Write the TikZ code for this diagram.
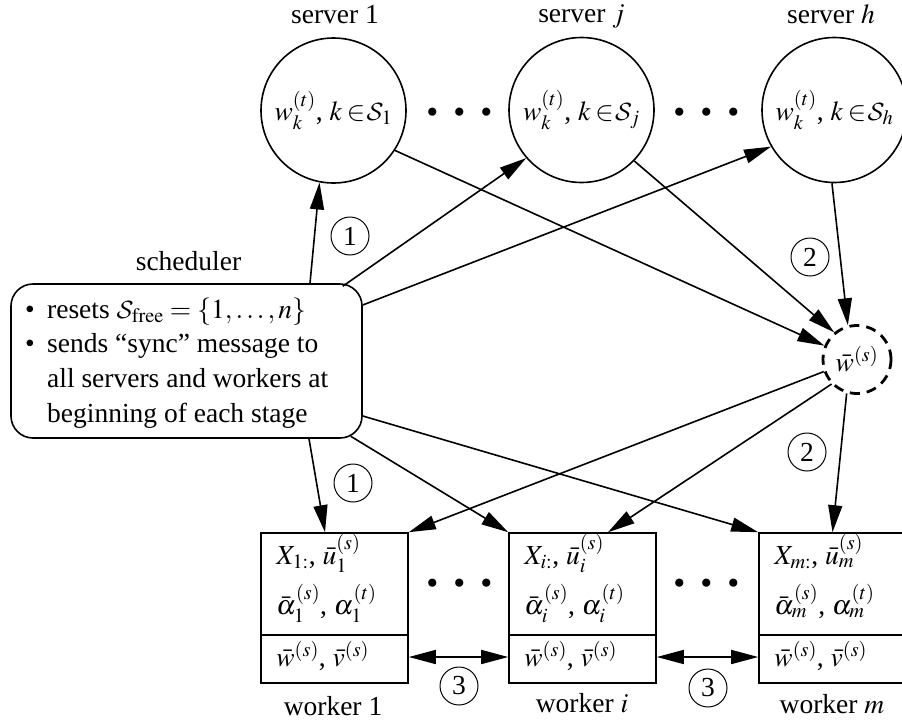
\documentclass[tikz,border=0pt]{standalone}
\usepackage{mathptmx}
\usepackage{fontspec}
\setmainfont{Liberation Serif}
\DeclareMathAlphabet{\mathcal}{OMS}{lmsy}{m}{n}
\usetikzlibrary{arrows.meta,calc}
\newcommand{\inS}{\mskip3mu{\in}\mskip1mu}
\begin{document}
\begin{tikzpicture}[x=1pt,y=-1pt,
  every node/.style={font=\fontsize{27.5}{34.7}\selectfont},
  server/.style={circle,draw,line width=1.6pt,minimum size=145pt,inner sep=0pt},
  wbox/.style={rectangle,draw,line width=1.6pt,minimum width=147pt,minimum height=150pt,inner sep=0pt},
  lbl/.style={anchor=base,inner sep=0pt},
  wt/.style={anchor=base west,inner sep=0pt},
  num/.style={circle,draw,line width=1pt,minimum size=38pt,inner sep=0pt},
  dots/.style={inner sep=0pt,font=\fontsize{50}{50}\selectfont\bfseries},
  arr/.style={line width=1.6pt,-{Triangle[length=27pt,width=14pt]}},
  darr/.style={line width=1.6pt,{Triangle[length=27pt,width=14pt]}-{Triangle[length=27pt,width=14pt]}}]
\useasboundingbox (0,0) rectangle (902,723);

% servers
\node[server] (s1) at (333.5,110.5) {$w_k^{(t)}$, $k\inS\mathcal{S}_1$};
\node[server] (sj) at (581.5,110) {$w_k^{(t)}$, $k\inS\mathcal{S}_j$};
\node[server] (sh) at (834.5,110) {$w_k^{(t)}$, $k\inS\mathcal{S}_h$};
\node[lbl] (l1) at (335,23) {server 1};
\node[lbl] (lj) at (581.5,22) {server $j$};
\node[lbl] (lh) at (831,23) {server $h$};
\node[dots] (d1) at (459.5,112) {.\hspace{14.5pt}.\hspace{14.5pt}.};
\node[dots] (d2) at (706.5,112) {.\hspace{14.5pt}.\hspace{14.5pt}.};

% aggregated
\node[circle,draw,dashed,dash pattern=on 10pt off 7pt,line width=2.8pt,minimum size=68pt,inner sep=0pt] (wb) at (857,359.5) {$\bar w^{(s)}$};

% scheduler
\node[lbl] (ls) at (188.5,270) {scheduler};
\node[draw,rounded corners=22pt,line width=1.6pt,minimum width=351pt,minimum height=154pt,inner sep=0pt] (sched) at (186.5,361) {};
\node[anchor=base west,inner sep=0pt] (schedtxt) at (25,318) {\begin{tabular}[t]{@{}p{22pt}@{}l@{}}
\textbullet & resets $\mathcal{S}_{\mathrm{free}}=\{1,\ldots,n\}$\\
\textbullet & sends “sync” message to\\
 & all servers and workers at\\
 & beginning of each stage
\end{tabular}};

% workers
\node[wbox] (w1) at (334.5,608) {};
\node[wbox] (wi) at (582.5,608) {};
\node[wbox] (wm) at (832.5,608) {};
\foreach \w in {w1,wi,wm}
  \draw[line width=1.6pt] ([yshift=-103pt]\w.north west) -- ([yshift=-103pt]\w.north east);
\node[wt] (w1a) at ([xshift=16pt,yshift=-32pt]w1.north west) {$X_{1:}$, $\bar u_1^{(s)}$};
\node[wt] (w1b) at ([xshift=16pt,yshift=-82pt]w1.north west) {$\bar\alpha_1^{(s)}$, $\alpha_1^{(t)}$};
\node[wt] (w1c) at ([xshift=16pt,yshift=-134pt]w1.north west) {$\bar w^{(s)}$, $\bar v^{(s)}$};
\node[wt] (wia) at ([xshift=16pt,yshift=-32pt]wi.north west) {$X_{i:}$, $\bar u_i^{(s)}$};
\node[wt] (wib) at ([xshift=16pt,yshift=-82pt]wi.north west) {$\bar\alpha_i^{(s)}$, $\alpha_i^{(t)}$};
\node[wt] (wic) at ([xshift=16pt,yshift=-134pt]wi.north west) {$\bar w^{(s)}$, $\bar v^{(s)}$};
\node[wt] (wma) at ([xshift=16pt,yshift=-32pt]wm.north west) {$X_{m:}$, $\bar u_m^{(s)}$};
\node[wt] (wmb) at ([xshift=16pt,yshift=-82pt]wm.north west) {$\bar\alpha_m^{(s)}$, $\alpha_m^{(t)}$};
\node[wt] (wmc) at ([xshift=16pt,yshift=-134pt]wm.north west) {$\bar w^{(s)}$, $\bar v^{(s)}$};
\node[lbl] (lw1) at (333,715) {worker 1};
\node[lbl] (lwi) at (582,712) {worker $i$};
\node[lbl] (lwm) at (832,713) {worker $m$};
\node[dots] (d3) at (460,583) {.\hspace{14.5pt}.\hspace{14.5pt}.};
\node[dots] (d4) at (707,583) {.\hspace{14.5pt}.\hspace{14.5pt}.};

% step numbers
\node[num] (c1a) at (350,236) {1};
\node[num] (c2a) at (810,257) {2};
\node[num] (c2b) at (807,452) {2};
\node[num] (c1b) at (353,483) {1};
\node[num] (c3a) at (459,686) {3};
\node[num] (c3b) at (708,688) {3};

% connectors
\draw[arr] ([xshift=123.5pt]sched.north) -- (s1.259);
\draw[arr] ([xshift=-20pt,yshift=-3pt]sched.north east) -- (sj.221);
\draw[arr] ([yshift=56pt]sched.east) -- (sh.210);
\draw[arr] (s1.-33) -- (wb.157);
\draw[arr] (sj.-44) -- (wb.130);
\draw[arr] (sh.268) -- (wb.105);
\draw[arr] ([xshift=122.5pt]sched.south) -- ([xshift=-9.5pt]w1.north);
\draw[arr] ([xshift=-12pt,yshift=2.5pt]sched.south east) -- (wi.north west);
\draw[arr] ([yshift=-55pt]sched.east) -- (wm.north west);
\draw[arr] (wb.200) -- (w1.north east);
\draw[arr] (wb.224) -- ([xshift=25.5pt]wi.north);
\draw[arr] (wb.253) -- (wm.north);
\draw[darr] ([yshift=-49pt]w1.east) -- ([yshift=-49pt]wi.west);
\draw[darr] ([yshift=-49pt]wi.east) -- ([yshift=-49pt]wm.west);
\end{tikzpicture}
\end{document}
